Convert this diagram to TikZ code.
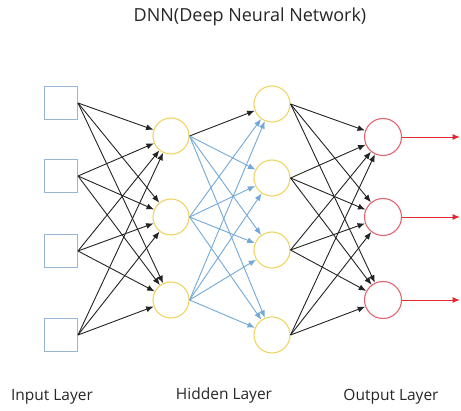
\documentclass[tikz,border=0pt]{standalone}
\usepackage{fontspec}
\setmainfont{Open Sans}
\usetikzlibrary{arrows.meta}
\definecolor{sqcol}{RGB}{150,182,212}
\definecolor{yelcol}{RGB}{238,212,100}
\definecolor{redcol}{RGB}{226,100,110}
\definecolor{bluecol}{RGB}{115,168,215}
\definecolor{darkcol}{RGB}{35,35,35}
\definecolor{outcol}{RGB}{230,40,50}
\begin{document}
\begin{tikzpicture}[x=1pt,y=-1pt,
  inbox/.style={draw=sqcol,line width=1pt,minimum size=33pt,inner sep=0pt},
  hidnode/.style={circle,draw=yelcol,line width=1.1pt,minimum size=36pt,inner sep=0pt},
  outnode/.style={circle,draw=redcol,line width=1.1pt,minimum size=37pt,inner sep=0pt},
  blk/.style={draw=darkcol,line width=0.9pt,-{Latex[length=7.5pt,width=6pt]}},
  blu/.style={draw=bluecol,line width=0.9pt,-{Latex[length=7.5pt,width=6pt]}},
  rd/.style={draw=outcol,line width=0.9pt,-{Latex[length=7.5pt,width=6pt]}},
  lbl/.style={font=\fontsize{15.5}{18}\selectfont,text=black!85}]
\useasboundingbox (0,0) rectangle (461,411);
\node[font=\fontsize{18}{21}\selectfont,text=black!85] (title) at (250,17) {DNN(Deep Neural Network)};
\node[inbox] (i1) at (61,103) {};
\node[inbox] (i2) at (61,176) {};
\node[inbox] (i3) at (61,251) {};
\node[inbox] (i4) at (61,335) {};
\node[hidnode] (a1) at (171,136) {};
\node[hidnode] (a2) at (171,217) {};
\node[hidnode] (a3) at (171,300) {};
\node[hidnode] (b1) at (272,104) {};
\node[hidnode] (b2) at (272,178) {};
\node[hidnode] (b3) at (272,250) {};
\node[hidnode] (b4) at (272,335) {};
\node[outnode] (o1) at (383,137) {};
\node[outnode] (o2) at (383,217) {};
\node[outnode] (o3) at (383,300) {};
\coordinate (e1) at (460,137);
\coordinate (e2) at (460,217);
\coordinate (e3) at (460,300);
\foreach \s in {1,2,3,4}{\foreach \t in {1,2,3}{\draw[blk] (i\s.east) -- (a\t);}}
\foreach \s in {1,2,3}{\foreach \t in {1,2,3,4}{
  \ifnum\s=1 \ifnum\t=1 \draw[blk] (a\s.east) -- (b\t); \else \draw[blu] (a\s.east) -- (b\t); \fi
  \else \draw[blu] (a\s.east) -- (b\t); \fi}}
\foreach \s in {1,2,3,4}{\foreach \t in {1,2,3}{\draw[blk] (b\s.east) -- (o\t);}}
\foreach \t in {1,2,3}{\draw[rd] (o\t.east) -- (e\t);}
\node[lbl] (l1) at (52,397) {Input Layer};
\node[lbl] (l2) at (224,395) {Hidden Layer};
\node[lbl] (l3) at (391,397) {Output Layer};
\end{tikzpicture}
\end{document}
